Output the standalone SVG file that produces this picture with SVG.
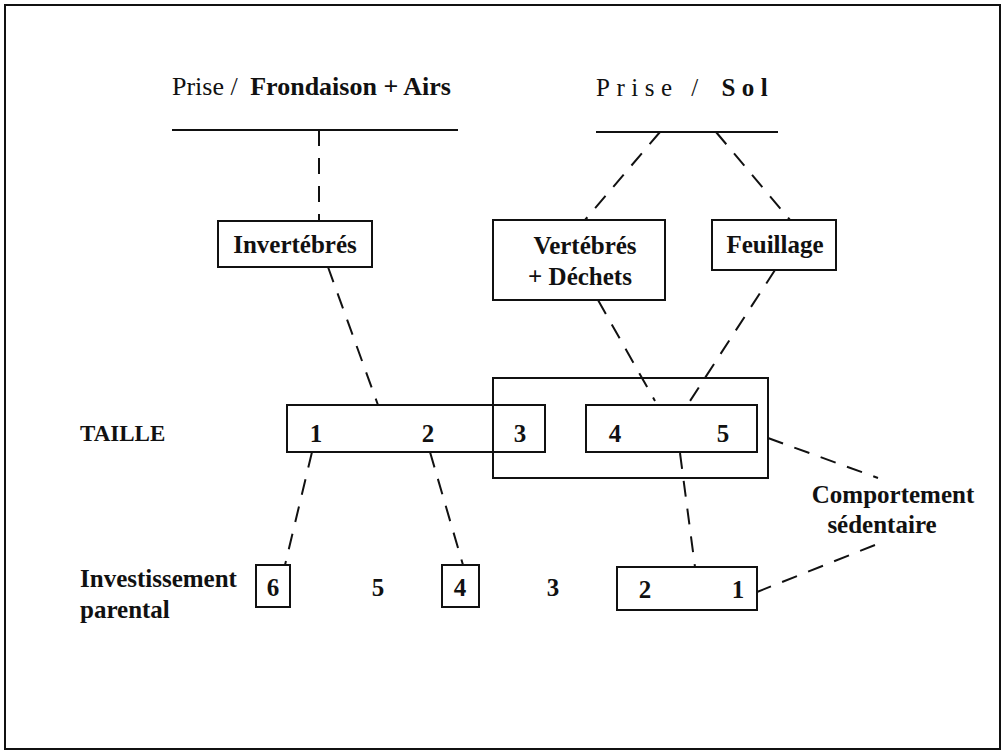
<svg xmlns="http://www.w3.org/2000/svg" width="1003" height="755" viewBox="0 0 1003 755">
<style>
text{font-family:"Liberation Serif","Times New Roman",serif;fill:#111;}
.b{font-weight:bold;font-size:25px;}
.n{font-size:26px;}
.box{fill:none;stroke:#111;stroke-width:2;}
.ln{stroke:#111;stroke-width:2;fill:none;}
.d{stroke:#111;stroke-width:2;fill:none;stroke-dasharray:16 12;}
</style>
<rect x="0" y="0" width="1003" height="755" fill="#fff"/>
<rect x="5" y="5" width="995" height="744" class="box" stroke-width="3"/>

<g id="header-left">
<text x="172" y="95" class="n">Prise / <tspan font-weight="bold" dx="6">Frondaison + Airs</tspan></text>
<line x1="172" y1="130" x2="458" y2="130" class="ln"/>
</g>
<g id="header-right">
<text x="596" y="96" font-size="25" letter-spacing="6.5">Prise / <tspan font-weight="bold" dx="4">Sol</tspan></text>
<line x1="596" y1="132" x2="778" y2="132" class="ln"/>
</g>

<g id="connectors">
<line x1="319" y1="130" x2="319" y2="221" class="d"/>
<line x1="660" y1="132" x2="585" y2="220" class="d"/>
<line x1="716" y1="132" x2="790" y2="220" class="d"/>
<line x1="328" y1="267" x2="378" y2="405" class="d"/>
<line x1="598" y1="300" x2="655" y2="401" class="d"/>
<line x1="775" y1="270" x2="690" y2="401" class="d"/>
<line x1="312" y1="452" x2="285" y2="565" class="d"/>
<line x1="430" y1="452" x2="463" y2="565" class="d"/>
<line x1="680" y1="453" x2="695" y2="567" class="d"/>
<line x1="768" y1="438" x2="878" y2="478" class="d"/>
<line x1="875" y1="545" x2="757" y2="592" class="d"/>
</g>

<g id="invertebres">
<rect x="218" y="221" width="154" height="46" class="box"/>
<text x="295" y="253" class="b" text-anchor="middle">Invertébrés</text>
</g>
<g id="vertebres">
<rect x="493" y="220" width="172" height="80" class="box"/>
<text x="585" y="254" class="b" text-anchor="middle">Vertébrés</text>
<text x="580" y="285" class="b" text-anchor="middle">+  Déchets</text>
</g>
<g id="feuillage">
<rect x="712" y="220" width="124" height="50" class="box"/>
<text x="775" y="253" class="b" text-anchor="middle">Feuillage</text>
</g>

<g id="taille-label"><text x="80" y="441" class="b" style="font-size:23px">TAILLE</text></g>
<g id="taille">
<rect x="287" y="405" width="258" height="47" class="box"/>
<text x="316" y="442" class="b" text-anchor="middle">1</text>
<text x="428" y="442" class="b" text-anchor="middle">2</text>
<text x="520" y="442" class="b" text-anchor="middle">3</text>
</g>
<g id="sedentaire-group">
<rect x="493" y="378" width="275" height="100" class="box"/>
</g>
<g id="taille-45">
<rect x="586" y="405" width="171" height="47" class="box"/>
<text x="615" y="442" class="b" text-anchor="middle">4</text>
<text x="723" y="442" class="b" text-anchor="middle">5</text>
</g>
<g id="comportement">
<text x="893" y="503" class="b" text-anchor="middle">Comportement</text>
<text x="882" y="533" class="b" text-anchor="middle">sédentaire</text>
</g>

<g id="investissement-label">
<text x="80" y="587" class="b">Investissement</text>
<text x="80" y="618" class="b">parental</text>
</g>
<g id="inv-6">
<rect x="256" y="565" width="34" height="42" class="box"/>
<text x="273" y="596" class="b" text-anchor="middle">6</text>
</g>
<g id="inv-5"><text x="378" y="596" class="b" text-anchor="middle">5</text></g>
<g id="inv-4">
<rect x="442" y="565" width="37" height="42" class="box"/>
<text x="460" y="596" class="b" text-anchor="middle">4</text>
</g>
<g id="inv-3"><text x="553" y="596" class="b" text-anchor="middle">3</text></g>
<g id="inv-21">
<rect x="617" y="567" width="140" height="43" class="box"/>
<text x="645" y="598" class="b" text-anchor="middle">2</text>
<text x="738" y="598" class="b" text-anchor="middle">1</text>
</g>
</svg>
